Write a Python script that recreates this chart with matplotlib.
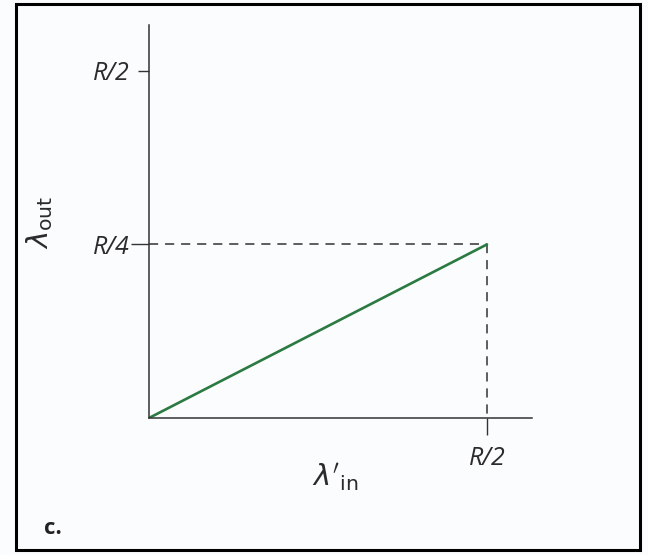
import matplotlib
matplotlib.use("Agg")
import matplotlib.pyplot as plt
from matplotlib.patches import Rectangle

# throughput vs offered load, in units of R
lam_in = [0, 0.5]
lam_out = [0, 0.25]

x_ticks = [0.5]
x_tick_labels = ["R/2"]
y_ticks = [0.25, 0.5]
y_tick_labels = ["R/4", "R/2"]

axis_col = "#333333"
green = "#2a7a42"

plt.rcParams["font.family"] = ["Open Sans", "DejaVu Sans"]
plt.rcParams["mathtext.fontset"] = "dejavusans"

fig = plt.figure(figsize=(6.48, 5.55), dpi=100)
fig.patch.set_facecolor("#fbfcfd")

ax = fig.add_axes([149 / 648, 137 / 555, 383 / 648, 393 / 555])
ax.set_facecolor("none")
ax.set_xlim(0, 0.5666)
ax.set_ylim(0, 0.566)

for s in ["top", "right"]:
    ax.spines[s].set_visible(False)
for s in ["left", "bottom"]:
    ax.spines[s].set_color(axis_col)
    ax.spines[s].set_linewidth(1.1)

# dashed guide lines to the end point
ax.plot([0, lam_in[1]], [lam_out[1], lam_out[1]], color=axis_col, lw=1.1,
        ls=(0, (6, 4.5)))
ax.plot([lam_in[1], lam_in[1]], [lam_out[1], 0], color=axis_col, lw=1.1,
        ls=(0, (6, 4.5)))

ax.plot(lam_in, lam_out, color=green, lw=1.9, solid_capstyle="round")

ax.set_xticks(x_ticks)
ax.set_xticklabels(x_tick_labels, fontsize=18, style="italic", color="#2b2b2b")
ax.set_yticks(y_ticks)
ax.set_yticklabels(y_tick_labels, fontsize=18, style="italic", color="#2b2b2b")
ax.tick_params(axis="y", length=8, width=1.0, color=axis_col, pad=6)
ax.tick_params(axis="x", length=12, width=1.0, color=axis_col, pad=8)
# the R/4 tick runs a bit further left
ax.yaxis.get_major_ticks()[0].tick1line.set_markersize(13)

fig.text(40 / 648, 1 - 222 / 555, r"$\lambda_{\mathrm{out}}$", rotation=90,
         ha="center", va="center", fontsize=21, color="#2b2b2b")
fig.text(335 / 648, 1 - 477 / 555, r"$\lambda'_{\mathrm{in}}$",
         ha="center", va="center", fontsize=21, color="#2b2b2b")
fig.text(44 / 648, 1 - 534 / 555, "c.", ha="left", va="baseline",
         fontsize=16, fontweight="bold", color="#222222")

# frame round the whole panel
fig.patches.append(Rectangle((16 / 648, 1 - 550 / 555), 624 / 648, 546 / 555,
                             transform=fig.transFigure, fill=False,
                             edgecolor="black", lw=2.2))

fig.savefig("out.png", dpi=100, facecolor=fig.get_facecolor())
